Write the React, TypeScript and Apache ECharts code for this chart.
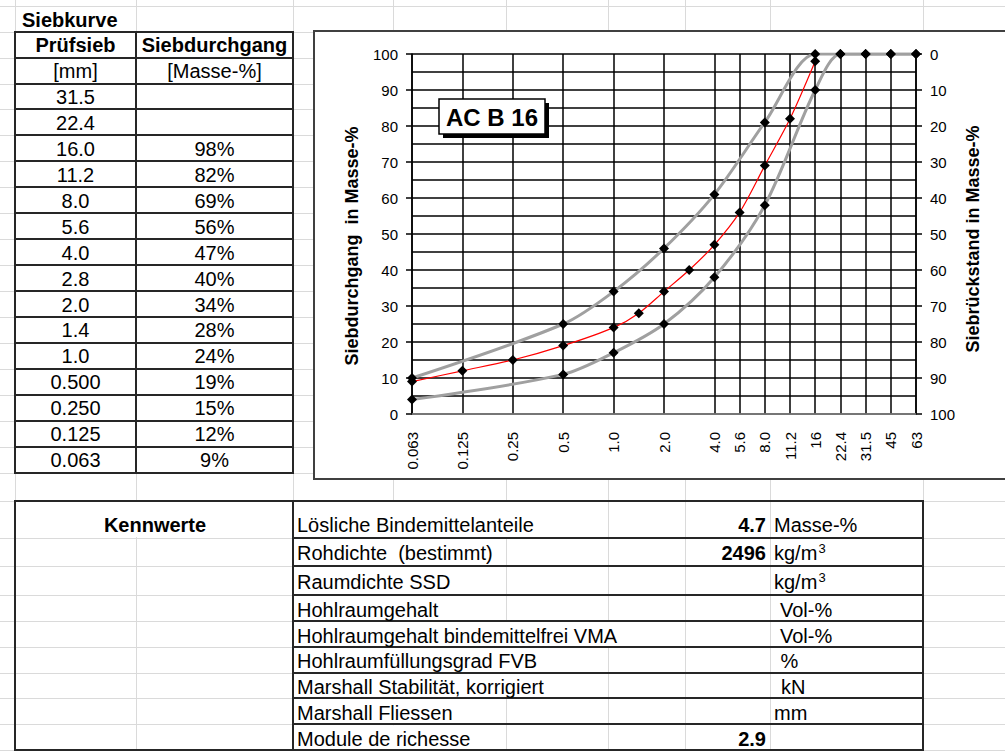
import React, { useEffect, useRef } from 'react';
import * as echarts from 'echarts';

const FONT = '"Liberation Sans", Arial, Helvetica, sans-serif';

// ---------- data: sieve table ----------
const sheetTitle = 'Siebkurve';
const tableHeaders = ['Prüfsieb', 'Siebdurchgang'];
const tableUnits = ['[mm]', '[Masse-%]'];
const tableSieves = ['31.5', '22.4', '16.0', '11.2', '8.0', '5.6', '4.0', '2.8', '2.0', '1.4', '1.0', '0.500', '0.250', '0.125', '0.063'];
const tablePassing: (number | null)[] = [null, null, 98, 82, 69, 56, 47, 40, 34, 28, 24, 19, 15, 12, 9];

// ---------- data: chart ----------
const xCategories = ['0.063', '0.09', '0.125', '0.18', '0.25', '0.355', '0.5', '0.71', '1.0', '1.4', '2.0', '2.8', '4.0', '5.6', '8.0', '11.2', '16', '22.4', '31.5', '45', '63'];
const unlabeledCategories = ['0.09', '0.18', '0.355', '0.71', '1.4', '2.8'];
const upperLimit: (number | null)[] = [10, null, null, null, null, null, 25, null, 34, null, 46, null, 61, null, 81, null, 100, 100, 100, 100, 100];
const lowerLimit: (number | null)[] = [4, null, null, null, null, null, 11, null, 17, null, 25, null, 38, null, 58, null, 90, 100, 100, 100, 100];
const leftAxisTitle = 'Siebdurchgang  in Masse-%';
const rightAxisTitle = 'Siebrückstand in Masse-%';
const mixLabel = 'AC B 16';

// ---------- data: properties table ----------
const propTitle = 'Kennwerte';
const propLabels = ['Lösliche Bindemittelanteile', 'Rohdichte  (bestimmt)', 'Raumdichte SSD', 'Hohlraumgehalt', 'Hohlraumgehalt bindemittelfrei VMA', 'Hohlraumfüllungsgrad FVB', 'Marshall Stabilität, korrigiert', 'Marshall Fliessen', 'Module de richesse'];
const propValues = ['4.7', '2496', '', '', '', '', '', '', '2.9'];
const propUnits = ['Masse-%', 'kg/m', 'kg/m', 'Vol-%', 'Vol-%', '%', 'kN', 'mm', ''];
const propUnitSup = ['', '3', '3', '', '', '', '', '', ''];

// red curve derived from the sieve table
const redCurve = xCategories.map((c) => {
  const i = tableSieves.findIndex((s) => parseFloat(s) === parseFloat(c));
  return i >= 0 ? tablePassing[i] : null;
});

// ---------- layout ----------
const W = 1005;
const H = 751;
const sheetCols = [15, 136, 293, 393, 506, 608, 684.5, 770, 923];
const topRow0 = 5.7;
const rowH = 25.94;
const topRowLines = Array.from({ length: 19 }, (_, k) => topRow0 + rowH * k);
const bottomRowLines = [500.5, 537.7, 566, 595, 621, 646.7, 672.7, 698.3, 724.3, 750];
const bottomCapY = [525, 553, 582, 609.7, 635.5, 661, 687, 713, 738.7];
const unitX = [774, 774, 774, 780, 780, 780.5, 781, 774, 774];
const labelX = 297;

function measure(t: string, size: number, bold = false) {
  const c = document.createElement('canvas').getContext('2d');
  if (!c) return t.length * size * 0.55;
  c.font = `${bold ? 'bold ' : ''}${size}px ${FONT}`;
  return c.measureText(t).width;
}

function buildGraphic() {
  const g: any[] = [];
  const gridColor = '#dadada';
  const border = '#262626';
  const px = (v: number) => Math.round(v) + 0.5;

  // spreadsheet gridlines
  sheetCols.forEach((x) =>
    g.push({ type: 'line', z: -20, silent: true, shape: { x1: px(x), y1: 0, x2: px(x), y2: H }, style: { stroke: gridColor, lineWidth: 1 } })
  );
  [...topRowLines, ...bottomRowLines].forEach((y) =>
    g.push({ type: 'line', z: -20, silent: true, shape: { x1: 0, y1: px(y), x2: W, y2: px(y) }, style: { stroke: gridColor, lineWidth: 1 } })
  );

  // overflowing texts hide the gridlines of the cells they span
  propLabels.forEach((l, i) => {
    const end = labelX + measure(l, 20);
    const stop = sheetCols.find((x) => x > end) ?? 923;
    g.push({
      type: 'rect', z: -15, silent: true,
      shape: { x: 294, y: bottomRowLines[i] + 1, width: stop - 294, height: bottomRowLines[i + 1] - bottomRowLines[i] - 1.5 },
      style: { fill: '#fff' },
    });
  });
  g.push({ type: 'rect', z: -15, silent: true, shape: { x: 16, y: 502, width: 276, height: 35 }, style: { fill: '#fff' } });

  // chart frame
  g.push({ type: 'rect', z: -10, silent: true, shape: { x: 314, y: 31, width: 760, height: 448 }, style: { fill: '#fff', stroke: '#404040', lineWidth: 2 } });

  const text = (x: number, y: number, t: string, o: any = {}) => ({
    type: 'text',
    z: o.z ?? 10,
    silent: true,
    x,
    y,
    rotation: o.rotation ?? 0,
    style: {
      text: t,
      fontSize: o.fontSize ?? 20,
      fontWeight: o.bold ? 'bold' : 'normal',
      fontFamily: FONT,
      fill: '#000',
      align: o.align ?? 'center',
      verticalAlign: 'middle',
    },
  });

  // ---- top table ----
  g.push(text(22, 19.7, sheetTitle, { bold: true, align: 'left' }));
  const tTop = topRowLines[1];
  const tBot = topRowLines[18];
  [15, 136, 293].forEach((x) =>
    g.push({ type: 'line', z: 5, silent: true, shape: { x1: x, y1: tTop, x2: x, y2: tBot }, style: { stroke: border, lineWidth: 2 } })
  );
  for (let k = 1; k <= 18; k++) {
    const y = Math.round(topRowLines[k]);
    g.push({ type: 'line', z: 5, silent: true, shape: { x1: 14, y1: y, x2: 294, y2: y }, style: { stroke: border, lineWidth: 2 } });
  }
  const rowCenter = (r: number) => topRow0 + rowH * (r + 1.5) + 0.5;
  const c1 = 75.5;
  const c2 = 214.5;
  g.push(text(c1, rowCenter(0), tableHeaders[0], { bold: true }));
  g.push(text(c2, rowCenter(0), tableHeaders[1], { bold: true }));
  g.push(text(c1, rowCenter(1), tableUnits[0]));
  g.push(text(c2, rowCenter(1), tableUnits[1]));
  tableSieves.forEach((s, i) => {
    g.push(text(c1, rowCenter(i + 2), s));
    const p = tablePassing[i];
    if (p != null) g.push(text(c2, rowCenter(i + 2), p + '%'));
  });

  // ---- bottom table ----
  g.push({ type: 'rect', z: 5, silent: true, shape: { x: 15, y: 501, width: 908, height: 249 }, style: { fill: 'none', stroke: border, lineWidth: 2 } });
  g.push({ type: 'line', z: 5, silent: true, shape: { x1: 293, y1: 501, x2: 293, y2: 750 }, style: { stroke: border, lineWidth: 2 } });
  bottomRowLines.slice(1, -1).forEach((y) =>
    g.push({ type: 'line', z: 5, silent: true, shape: { x1: 293, y1: Math.round(y), x2: 923, y2: Math.round(y) }, style: { stroke: border, lineWidth: 2 } })
  );
  g.push(text(155, bottomCapY[0], propTitle, { bold: true }));
  propLabels.forEach((l, i) => {
    const y = bottomCapY[i];
    g.push(text(labelX, y, l, { align: 'left' }));
    if (propValues[i]) g.push(text(766, y, propValues[i], { align: 'right', bold: true }));
    if (propUnits[i]) g.push(text(unitX[i], y, propUnits[i], { align: 'left' }));
    if (propUnitSup[i]) g.push(text(818.5, y - 4.5, propUnitSup[i], { align: 'left', fontSize: 13 }));
  });

  // ---- chart extras ----
  g.push(text(352, 246, leftAxisTitle, { bold: true, fontSize: 18, rotation: Math.PI / 2 }));
  g.push(text(973, 239, rightAxisTitle, { bold: true, fontSize: 18, rotation: Math.PI / 2 }));
  g.push({ type: 'rect', z: 50, silent: true, shape: { x: 443, y: 103, width: 106, height: 35 }, style: { fill: '#000' } });
  g.push({ type: 'rect', z: 51, silent: true, shape: { x: 439, y: 99, width: 106, height: 35 }, style: { fill: '#fff', stroke: '#000', lineWidth: 1.5 } });
  g.push(text(492, 117, mixLabel, { bold: true, fontSize: 24, z: 52 }));
  return g;
}

export default function App() {
  const ref = useRef<HTMLDivElement>(null);

  useEffect(() => {
    if (!ref.current) return;
    const chart = echarts.init(ref.current, undefined, { renderer: 'svg' });
    const axisLabelStyle = { fontSize: 15, color: '#000', fontFamily: FONT };
    const showCat = (_i: number, v: string) => !unlabeledCategories.includes(v);
    const marker = {
      symbol: 'diamond',
      symbolSize: 10,
      showSymbol: true,
      showAllSymbol: true,
      itemStyle: { color: '#000' },
      connectNulls: true,
      silent: true,
    };
    chart.setOption({
      animation: false,
      backgroundColor: '#fff',
      textStyle: { fontFamily: FONT },
      grid: { left: 412, top: 54, width: 504, height: 360, show: false },
      xAxis: {
        type: 'category',
        data: xCategories,
        boundaryGap: false,
        axisLine: { show: true, lineStyle: { color: '#888', width: 1.5 } },
        axisTick: { show: false, interval: showCat },
        axisLabel: {
          ...axisLabelStyle,
          interval: 0,
          rotate: 90,
          margin: 18,
          formatter: (v: string) => (unlabeledCategories.includes(v) ? '' : v),
        },
        splitLine: { show: true, interval: showCat, lineStyle: { color: '#000', width: 1.5 } },
      },
      yAxis: [
        {
          type: 'value',
          min: 0,
          max: 100,
          interval: 10,
          position: 'left',
          axisLine: { show: true, lineStyle: { color: '#000', width: 1.5 } },
          axisTick: { show: true, length: 6, lineStyle: { color: '#000', width: 1.5 } },
          axisLabel: { ...axisLabelStyle, margin: 14 },
          splitLine: { show: true, lineStyle: { color: '#000', width: 1.5 } },
          minorTick: { show: false, splitNumber: 2 },
          minorSplitLine: { show: true, lineStyle: { color: '#000', width: 1.5 } },
        },
        {
          type: 'value',
          min: 0,
          max: 100,
          interval: 10,
          inverse: true,
          position: 'right',
          axisLine: { show: true, lineStyle: { color: '#000', width: 1.5 } },
          axisTick: { show: true, length: 6, lineStyle: { color: '#000', width: 1.5 } },
          axisLabel: { ...axisLabelStyle, margin: 14 },
          splitLine: { show: false },
        },
      ],
      series: [
        { name: 'Obergrenze', type: 'line', data: upperLimit, smooth: 0.3, lineStyle: { color: '#a0a0a0', width: 3 }, z: 2, ...marker },
        { name: 'Untergrenze', type: 'line', data: lowerLimit, smooth: 0.3, lineStyle: { color: '#a0a0a0', width: 3 }, z: 2, ...marker },
        { name: 'Siebdurchgang', type: 'line', data: redCurve, smooth: 0.3, lineStyle: { color: '#ff0000', width: 1.2 }, z: 3, ...marker },
      ],
      graphic: { elements: buildGraphic() },
    });
    return () => chart.dispose();
  }, []);

  return <div ref={ref} style={{ position: 'absolute', left: 0, top: 0, width: W, height: H }} />;
}
